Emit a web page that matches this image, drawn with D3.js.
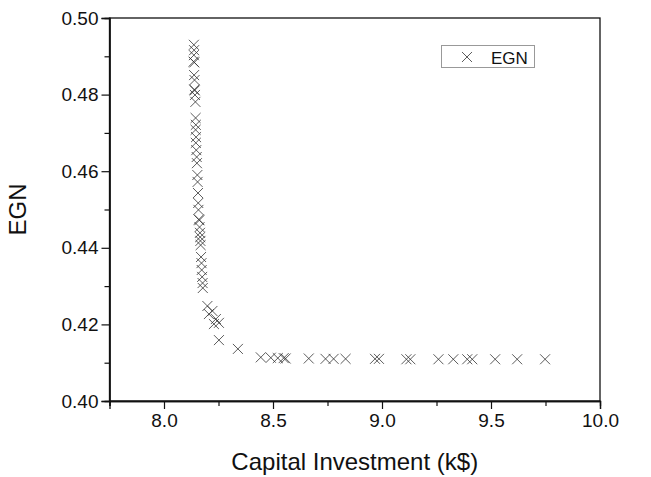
<!DOCTYPE html>
<html>
<head>
<meta charset="utf-8">
<script src="https://cdn.jsdelivr.net/npm/d3@7"></script>
<style>
  html, body { margin: 0; padding: 0; background: #fff; }
  svg { display: block; font-family: "Liberation Sans", Arial, sans-serif; }
</style>
</head>
<body>
<svg id="chart" width="651" height="477"></svg>
<script>
// Capital investment (k$) of each solution
const capitalInvestment = [
  8.137, 8.138, 8.137, 8.136, 8.139, 8.138, 8.140, 8.139, 8.141, 8.142,
  8.144, 8.145, 8.146, 8.145, 8.147, 8.146, 8.148, 8.150, 8.151, 8.153,
  8.154, 8.156, 8.157, 8.158, 8.160, 8.162, 8.163, 8.165, 8.166, 8.167,
  8.168, 8.170, 8.172, 8.173, 8.175, 8.177, 8.178,
  8.199, 8.222, 8.206, 8.238, 8.252, 8.229, 8.252, 8.339,
  8.444, 8.490, 8.522, 8.549, 8.558, 8.664, 8.741, 8.778, 8.833, 8.968,
  8.986, 9.112, 9.130, 9.259, 9.327, 9.391, 9.414, 9.519, 9.620, 9.748
];
// EGN of each solution
const egn = [
  0.4930, 0.4916, 0.4903, 0.4886, 0.4884, 0.4851, 0.4838, 0.4813, 0.4811, 0.4799,
  0.4781, 0.4739, 0.4721, 0.4708, 0.4689, 0.4674, 0.4655, 0.4637, 0.4621, 0.4590,
  0.4572, 0.4543, 0.4517, 0.4499, 0.4474, 0.4472, 0.4454, 0.4439, 0.4428, 0.4418,
  0.4407, 0.4376, 0.4360, 0.4342, 0.4324, 0.4308, 0.4295,
  0.4248, 0.4235, 0.4227, 0.4214, 0.4204, 0.4201, 0.4159, 0.4136,
  0.4114, 0.4113, 0.4112, 0.4112, 0.4111, 0.4111, 0.4110, 0.4110, 0.4110, 0.4110,
  0.4110, 0.4109, 0.4109, 0.4109, 0.4109, 0.4109, 0.4109, 0.4109, 0.4109, 0.4109
];
const xMajorTicks = [8.0, 8.5, 9.0, 9.5, 10.0];
const xMinorTicks = [7.75, 8.25, 8.75, 9.25, 9.75];
const yMajorTicks = [0.40, 0.42, 0.44, 0.46, 0.48, 0.50];
const yMinorTicks = [0.41, 0.43, 0.45, 0.47, 0.49];
const seriesName = "EGN";

const svg = d3.select("#chart");
const plotLeft = 109.5, plotRight = 600, plotTop = 18, plotBottom = 401;

const x = d3.scaleLinear().domain([7.75, 10.0]).range([plotLeft, plotRight]);
const y = d3.scaleLinear().domain([0.40, 0.50]).range([plotBottom, plotTop]);

const ink = "#111";
const tickFont = 19;

// frame
svg.append("rect")
  .attr("x", plotLeft).attr("y", plotTop)
  .attr("width", plotRight - plotLeft).attr("height", plotBottom - plotTop)
  .attr("fill", "none").attr("stroke", ink).attr("stroke-width", 1.3);

// x axis (major + minor)
const gx = svg.append("g").attr("transform", `translate(0,${plotBottom})`);
gx.call(d3.axisBottom(x).tickValues(xMajorTicks).tickSize(8).tickPadding(5)
  .tickFormat(d3.format(".1f")));
const gxm = svg.append("g").attr("transform", `translate(0,${plotBottom})`);
gxm.call(d3.axisBottom(x).tickValues(xMinorTicks).tickSize(5).tickFormat(""));

// y axis (major + minor)
const gy = svg.append("g").attr("transform", `translate(${plotLeft},0)`);
gy.call(d3.axisLeft(y).tickValues(yMajorTicks).tickSize(8).tickPadding(3)
  .tickFormat(d3.format(".2f")));
const gym = svg.append("g").attr("transform", `translate(${plotLeft},0)`);
gym.call(d3.axisLeft(y).tickValues(yMinorTicks).tickSize(5).tickFormat(""));

[gx, gxm, gy, gym].forEach(g => {
  g.select(".domain").attr("stroke", ink).attr("stroke-width", 1.3);
  g.selectAll(".tick line").attr("stroke", ink).attr("stroke-width", 1.2);
  g.selectAll(".tick text").attr("fill", ink)
    .style("font-size", tickFont + "px")
    .style("font-family", '"Liberation Sans", Arial, sans-serif');
});

// axis titles
svg.append("text")
  .attr("x", (plotLeft + plotRight) / 2).attr("y", 470)
  .attr("text-anchor", "middle").attr("fill", ink)
  .style("font-size", "24px")
  .text("Capital Investment (k$)");

svg.append("text")
  .attr("transform", `translate(26,${(plotTop + plotBottom) / 2}) rotate(-90)`)
  .attr("text-anchor", "middle").attr("fill", ink)
  .style("font-size", "24px")
  .text("EGN");

// x markers
const cross = d3.symbol().type(d3.symbolX).size(67);
const points = capitalInvestment.map((c, i) => ({ c, e: egn[i] }));

svg.append("g")
  .selectAll("path")
  .data(points)
  .join("path")
  .attr("d", cross)
  .attr("transform", d => `translate(${x(d.c)},${y(d.e)})`)
  .attr("fill", "none")
  .attr("stroke", "#333")
  .attr("stroke-opacity", 0.8)
  .attr("stroke-width", 1);

// legend
const lg = svg.append("g");
lg.append("rect")
  .attr("x", 441.5).attr("y", 45.5).attr("width", 93).attr("height", 22)
  .attr("fill", "#fff").attr("stroke", "#999").attr("stroke-width", 1);
lg.append("path")
  .attr("d", cross)
  .attr("transform", "translate(467,57)")
  .attr("fill", "none").attr("stroke", "#333").attr("stroke-opacity", 0.8)
  .attr("stroke-width", 1);
lg.append("text")
  .attr("x", 491).attr("y", 63.5)
  .attr("fill", ink).style("font-size", "17px")
  .text(seriesName);
</script>
</body>
</html>
